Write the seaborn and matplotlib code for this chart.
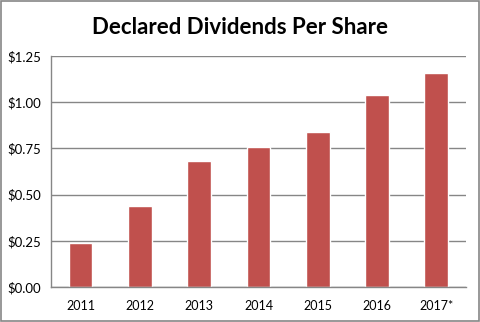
import matplotlib
matplotlib.use("Agg")
import matplotlib.pyplot as plt
import seaborn as sns
import pandas as pd
from matplotlib.ticker import FuncFormatter, FixedLocator
from matplotlib.patches import Rectangle

years = ["2011", "2012", "2013", "2014", "2015", "2016", "2017*"]
dividends = [0.24, 0.44, 0.68, 0.76, 0.84, 1.04, 1.16]
title = "Declared Dividends Per Share"

df = pd.DataFrame({"year": years, "dps": dividends})

sns.set_theme(style="white")
plt.rcParams["font.family"] = ["Lato", "DejaVu Sans"]

fig = plt.figure(figsize=(4.81, 3.22), dpi=100)
ax = fig.add_axes([51/481, 1 - 287/322, (466-51)/481, (287-56)/322])

sns.barplot(data=df, x="year", y="dps", color="#C0504D", saturation=1, width=0.4, ax=ax)

ax.set_ylim(0, 1.25)
ax.set_xlim(-0.5, len(years) - 0.5)
ax.yaxis.set_major_locator(FixedLocator([0, 0.25, 0.5, 0.75, 1.0, 1.25]))
ax.yaxis.set_major_formatter(FuncFormatter(lambda v, p: f"${v:.2f}"))
ax.grid(axis="y", color="#868686", linewidth=1)
ax.set_axisbelow(True)
for s in ["top", "right"]:
    ax.spines[s].set_visible(False)
for s in ["left", "bottom"]:
    ax.spines[s].set_color("#868686")
    ax.spines[s].set_linewidth(1)
ax.set_xlabel("")
ax.set_ylabel("")
ax.xaxis.set_minor_locator(FixedLocator([i - 0.5 for i in range(len(years) + 1)]))
ax.tick_params(axis="x", which="major", length=0, labelsize=9, pad=9, colors="black")
ax.tick_params(axis="x", which="minor", length=5, width=1, color="#868686", direction="out")
ax.tick_params(axis="y", which="major", length=5, width=1, color="#868686", direction="out",
               labelsize=9.5, pad=2, labelcolor="black")
for lbl in ax.get_xticklabels() + ax.get_yticklabels():
    lbl.set_color("black")

fig.text(240/481, 1 - 27/322, title, ha="center", va="center",
         fontsize=16, fontweight="bold", color="black")

fig.patches.append(Rectangle((0.002, 0.002), 0.994, 0.996, transform=fig.transFigure,
                             fill=False, edgecolor="#868686", linewidth=1.2))

fig.savefig("out.png", dpi=100)
